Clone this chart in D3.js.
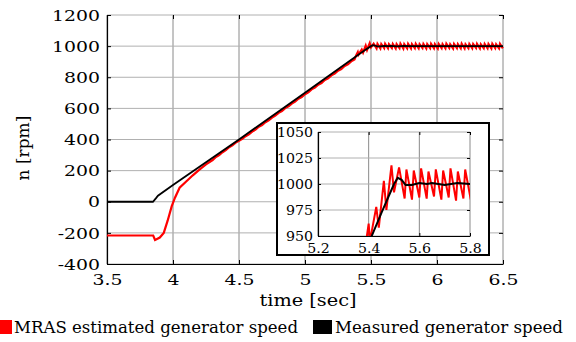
<!DOCTYPE html>
<html>
<head>
<meta charset="utf-8">
<script src="https://cdn.jsdelivr.net/npm/d3@7"></script>
<style>
  html, body { margin: 0; padding: 0; background: #fff; }
  svg { display: block; }
  text { font-family: "DejaVu Serif", serif; fill: #000; }
</style>
</head>
<body>
<svg id="chart" width="576" height="342"></svg>
<script>
// measured generator speed (black)
const measT = [3.5, 3.848, 3.87, 3.886, 4.0, 4.5, 5.0, 5.412, 5.45, 5.5, 5.515, 5.53, 5.546, 5.57, 5.6, 5.63, 5.65, 5.7, 5.75, 5.8, 6.0, 6.5];
const measN = [0, 0, 22, 39, 107, 400, 700, 950, 972, 1000, 1006, 1004, 999, 999, 1001, 1000, 1001, 999, 1001, 1000, 1000, 1000];

// MRAS estimated generator speed (red)
const estT = [3.5, 3.85, 3.864, 3.9, 3.93, 3.96, 3.99, 4.015, 4.05, 4.1, 4.15, 4.2, 4.25,
  4.3, 4.325, 4.35, 4.375, 4.4, 4.425, 4.45, 4.475, 4.5, 4.525, 4.55, 4.575, 4.6, 4.625, 4.65, 4.675,
  4.7, 4.725, 4.75, 4.775, 4.8, 4.825, 4.85, 4.875, 4.9, 4.925, 4.95, 4.975, 5.0, 5.025, 5.05, 5.075,
  5.1, 5.125, 5.15, 5.175, 5.2, 5.225, 5.25, 5.275, 5.3, 5.325, 5.35, 5.375,
  5.39, 5.40, 5.405, 5.43, 5.44, 5.46, 5.47, 5.49, 5.50,
  5.520, 5.542, 5.549, 5.571, 5.578, 5.600, 5.607, 5.629, 5.636, 5.658, 5.665, 5.687, 5.694, 5.716,
  5.723, 5.745, 5.752, 5.774, 5.781, 5.803, 5.810, 5.832, 5.839, 5.861, 5.868, 5.890, 5.897, 5.919,
  5.926, 5.948, 5.955, 5.977, 5.984, 6.006, 6.013, 6.035, 6.042, 6.064, 6.071, 6.093, 6.100, 6.122,
  6.129, 6.151, 6.158, 6.180, 6.187, 6.209, 6.216, 6.238, 6.245, 6.267, 6.274, 6.296, 6.303, 6.325,
  6.332, 6.354, 6.361, 6.383, 6.390, 6.412, 6.419, 6.441, 6.448, 6.470, 6.477, 6.499];
const estN = [-217, -217, -245, -230, -200, -120, -30, 26, 90, 130, 170, 206, 240,
  268, 288, 300, 318, 332, 350, 362, 380, 392, 404, 421, 433, 451, 463, 482, 493,
  511, 523, 541, 553, 571, 583, 602, 613, 631, 643, 662, 673, 691, 703, 722, 733,
  752, 763, 782, 793, 812, 823, 842, 853, 872, 883, 902, 914,
  945, 962, 945, 978, 958, 1003, 975, 1018, 992,
  1016, 986, 1014, 985, 1013, 987, 1015, 986, 1012, 988, 1014, 985, 1013, 987,
  1015, 984, 1012, 986, 1014, 985, 1013, 987, 1015, 986, 1012, 988, 1014, 985,
  1013, 987, 1015, 986, 1012, 985, 1014, 987, 1013, 986, 1015, 988, 1012, 985,
  1014, 987, 1013, 986, 1015, 985, 1012, 987, 1014, 986, 1013, 988, 1015, 985,
  1012, 987, 1014, 986, 1013, 985, 1015, 987, 1012, 986, 1014, 985];

const xTicks = [3.5, 4, 4.5, 5, 5.5, 6, 6.5];
const yTicks = [-400, -200, 0, 200, 400, 600, 800, 1000, 1200];
const insetXTicks = [5.2, 5.4, 5.6, 5.8];
const insetYTicks = [950, 975, 1000, 1025, 1050];

const legendLabels = ["MRAS estimated generator speed", "Measured generator speed"];
const colors = ["#ff0000", "#000000"];

const svg = d3.select("#chart");

// main panel
const x = d3.scaleLinear().domain([3.5, 6.5]).range([107, 503]);
const y = d3.scaleLinear().domain([-400, 1200]).range([264, 15]);

function drawFrame(g, xs, ys, xt, yt, opts) {
  const [x0, x1] = xs.range();
  const [y0, y1] = ys.range();
  // grid
  g.selectAll("line.vg").data(xt).enter().append("line")
    .attr("x1", d => xs(d)).attr("x2", d => xs(d))
    .attr("y1", y1).attr("y2", y0)
    .attr("stroke", opts.vgrid).attr("stroke-width", 1);
  g.selectAll("line.hg").data(yt).enter().append("line")
    .attr("x1", x0).attr("x2", x1)
    .attr("y1", d => ys(d)).attr("y2", d => ys(d))
    .attr("stroke", opts.hgrid).attr("stroke-width", 1);

  const tl = opts.tick;
  // axes (left / bottom) with inward ticks on all four sides
  const ax = d3.axisBottom(xs).tickValues(xt).tickSize(-tl).tickSizeOuter(0).tickFormat(d => String(d));
  const ay = d3.axisLeft(ys).tickValues(yt).tickSize(-tl).tickSizeOuter(0).tickFormat(d => String(d));
  const axT = d3.axisTop(xs).tickValues(xt).tickSize(-tl).tickSizeOuter(0).tickFormat("");
  const ayR = d3.axisRight(ys).tickValues(yt).tickSize(-tl).tickSizeOuter(0).tickFormat("");

  g.append("g").attr("transform", `translate(0,${y1})`).call(axT)
    .call(s => s.select(".domain").remove());
  g.append("g").attr("transform", `translate(${x1},0)`).call(ayR)
    .call(s => s.select(".domain").remove());

  const gb = g.append("g").attr("transform", `translate(0,${y0})`).call(ax);
  const gl = g.append("g").attr("transform", `translate(${x0},0)`).call(ay);
  [gb, gl].forEach(s => {
    s.select(".domain").attr("stroke", "#000").attr("stroke-width", 1.2);
    s.selectAll("text")
      .style("font-family", '"DejaVu Serif", serif')
      .style("font-size", opts.fontSize + "px")
      .attr("fill", "#000");
  });
  gb.selectAll("text").attr("dy", null).attr("y", opts.xLabelY);
  gl.selectAll("text").attr("x", -opts.yLabelGap).attr("dy", "0.36em");
  if (opts.stretch !== 1) {
    [gb, gl].forEach(s => s.selectAll("text").each(function () {
      const w = this.getComputedTextLength();
      d3.select(this).attr("textLength", w * opts.stretch).attr("lengthAdjust", "spacingAndGlyphs");
    }));
  }
  g.selectAll(".tick line").attr("stroke", "#000");
}

const main = svg.append("g");
drawFrame(main, x, y, xTicks, yTicks, {
  vgrid: "#8a8a8a", hgrid: "#b0b0b0", tick: 4, fontSize: 14.5,
  xLabelY: 21, yLabelGap: 7, stretch: 1.3
});

const line = (xs, ys) => d3.line().x(d => xs(d[0])).y(d => ys(d[1]));
const estData = estT.map((t, i) => [t, estN[i]]);
const measData = measT.map((t, i) => [t, measN[i]]);

svg.append("defs").append("clipPath").attr("id", "mainClip")
  .append("rect").attr("x", 107).attr("y", 10).attr("width", 398).attr("height", 256);

main.append("path").datum(estData)
  .attr("clip-path", "url(#mainClip)")
  .attr("fill", "none").attr("stroke", colors[0]).attr("stroke-width", 2.2)
  .attr("d", line(x, y));
main.append("path").datum(measData)
  .attr("clip-path", "url(#mainClip)")
  .attr("fill", "none").attr("stroke", colors[1]).attr("stroke-width", 1.8)
  .attr("d", line(x, y));

// axis titles
svg.append("text").attr("x", 308).attr("y", 306)
  .attr("text-anchor", "middle").style("font-size", "17px")
  .attr("textLength", 97).attr("lengthAdjust", "spacingAndGlyphs")
  .text("time [sec]");
svg.append("text").attr("transform", "translate(29,148) rotate(-90)")
  .attr("text-anchor", "middle").style("font-size", "17px")
  .text("n [rpm]");

// inset
const ix = d3.scaleLinear().domain([5.2, 5.8]).range([318, 470]);
const iy = d3.scaleLinear().domain([950, 1050]).range([236, 132]);

svg.append("rect").attr("x", 277).attr("y", 123).attr("width", 212).attr("height", 132)
  .attr("fill", "#fff").attr("stroke", "#000").attr("stroke-width", 2);

const inset = svg.append("g");
drawFrame(inset, ix, iy, insetXTicks, insetYTicks, {
  vgrid: "#8a8a8a", hgrid: "#b0b0b0", tick: 3, fontSize: 13.5,
  xLabelY: 17, yLabelGap: 5, stretch: 1.05
});

svg.select("defs").append("clipPath").attr("id", "insetClip")
  .append("rect").attr("x", 318).attr("y", 132).attr("width", 152).attr("height", 104);

inset.append("path").datum(estData)
  .attr("clip-path", "url(#insetClip)")
  .attr("fill", "none").attr("stroke", colors[0]).attr("stroke-width", 2)
  .attr("d", line(ix, iy));
inset.append("path").datum(measData)
  .attr("clip-path", "url(#insetClip)")
  .attr("fill", "none").attr("stroke", colors[1]).attr("stroke-width", 2)
  .attr("d", line(ix, iy));

// legend
const legX = [0, 313];
const legW = [12, 19];
const legTextX = [14, 335];
const legTextW = [284, 228];
const leg = svg.append("g");
legendLabels.forEach((lab, i) => {
  leg.append("rect").attr("x", legX[i]).attr("y", 320).attr("width", legW[i]).attr("height", 14)
    .attr("fill", colors[i]);
  leg.append("text").attr("x", legTextX[i]).attr("y", 333)
    .style("font-size", "16px")
    .attr("textLength", legTextW[i]).attr("lengthAdjust", "spacingAndGlyphs")
    .text(lab);
});
</script>
</body>
</html>
